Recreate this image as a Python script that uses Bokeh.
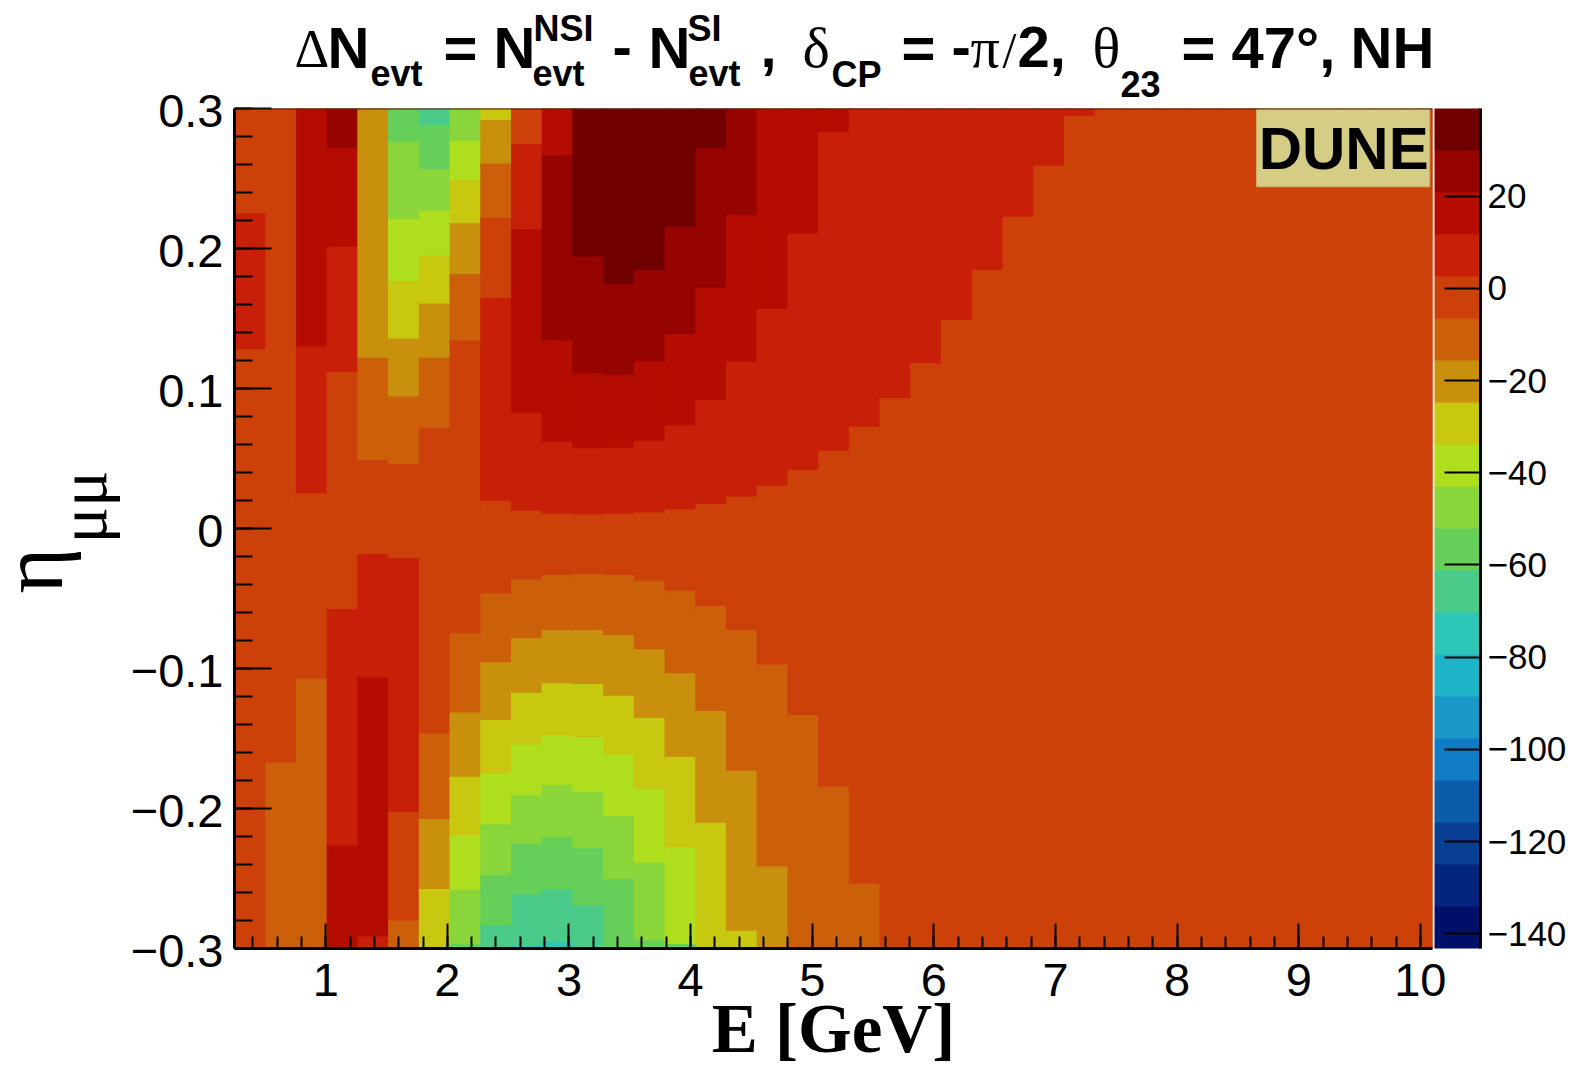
import numpy as np
from bokeh.core.properties import value
from bokeh.embed import file_html
from bokeh.layouts import column, row
from bokeh.models import (ColorBar, ColumnDataSource, FixedTicker, LinearAxis,
                          LinearColorMapper, Range1d, Span)
from bokeh.plotting import figure
from bokeh.resources import INLINE

# ---------- data ----------
E_MIN, E_MAX, N_COLS = 0.25, 10.1, 39
ETA_MIN, ETA_MAX = -0.3, 0.3
DN_MIN, DN_MAX = -143.2, 39.0

PALETTE = ["#001068", "#04247e", "#083e94", "#0c5cac", "#107cc6", "#1a98c8", "#1eb4c8",
           "#2ec6b6", "#4acb8a", "#66cf5a", "#8ad63a", "#aede1e", "#c8c810", "#c9900e",
           "#cb5f0a", "#cc400a", "#c81f08", "#b50c00", "#960400", "#700000"]

# mean ΔN of each colour band
DN_OF_BAND = {7: -74.9, 8: -65.8, 9: -56.7, 10: -47.6, 11: -38.5, 12: -29.4, 13: -20.2,
              14: -11.1, 15: -2.0, 16: 7.1, 17: 16.2, 18: 25.3, 19: 34.4}

# per energy column, from eta=+0.3 downwards: colour bands, and the eta where each one ends
COL_BANDS = [
    [15, 16, 15],
    [15, 14],
    [17, 16, 15, 14],
    [18, 17, 16, 15, 16, 17],
    [13, 14, 15, 16, 17, 16],
    [9, 10, 11, 12, 13, 14, 15, 16, 15, 14],
    [8, 9, 10, 11, 12, 13, 14, 15, 14, 13, 12],
    [10, 11, 12, 13, 14, 15, 14, 13, 12, 11, 10, 9],
    [12, 13, 14, 15, 16, 15, 14, 13, 12, 11, 10, 9, 8],
    [15, 16, 17, 16, 15, 14, 13, 12, 11, 10, 9, 8, 7],
    [17, 18, 17, 16, 15, 14, 13, 12, 11, 10, 9, 8, 7],
    [19, 18, 17, 16, 15, 14, 13, 12, 11, 10, 9, 8],
    [19, 18, 17, 16, 15, 14, 13, 12, 11, 10, 9],
    [19, 18, 17, 16, 15, 14, 13, 12, 11, 10, 9],
    [19, 18, 17, 16, 15, 14, 13, 12, 11, 9],
    [19, 18, 17, 16, 15, 14, 13, 12],
    [18, 17, 16, 15, 14, 13, 12],
    [17, 16, 15, 14, 13],
    [17, 16, 15, 14],
    [17, 16, 15, 14],
    [16, 15, 14],
    [16, 15], [16, 15], [16, 15], [16, 15], [16, 15], [16, 15], [16, 15],
    [15], [15], [15], [15], [15], [15], [15], [15], [15], [15], [15],
]
COL_ENDS = [
    [.2251, .128],
    [-.1673],
    [.1299, .0251, -.1073],
    [.272, .2013, .112, -.0575, -.2263],
    [.122, .0489, -.0182, -.1063, -.2915],
    [.2763, .2211, .1768, .1358, .0942, .0461, -.0211, -.2023, -.2801],
    [.2881, .2568, .227, .1949, .1608, .122, .072, -.1463, -.2075, -.2575],
    [.2768, .2489, .218, .1818, .1342, -.0749, -.1315, -.1773, -.2194, -.2582, -.2968],
    [.2918, .2608, .222, .1646, .0199, -.0463, -.0956, -.1368, -.1754, -.2113, -.2475, -.2832],
    [.2746, .2139, .0827, .0127, -.0363, -.0782, -.1173, -.1544, -.1904, -.2254, -.2613, -.2982],
    [.2668, .1342, .062, .0108, -.0332, -.0725, -.1105, -.1475, -.1832, -.2206, -.2575, -.2951],
    [.1942, .1108, .0573, .0101, -.0325, -.0725, -.1111, -.1492, -.1882, -.2284, -.2696],
    [.1749, .1096, .0577, .0108, -.0332, -.0761, -.1194, -.1615, -.2053, -.2503],
    [.1846, .1192, .0627, .0115, -.0373, -.0863, -.1354, -.1856, -.2385, -.2944],
    [.2156, .1389, .0737, .0137, -.0444, -.1034, -.1632, -.2275, -.2968],
    [.272, .172, .0918, .0175, -.0554, -.1304, -.2101],
    [.2239, .1192, .0227, -.0725, -.173, -.2873],
    [.1568, .0306, -.0973, -.2415],
    [.2108, .0418, -.1332],
    [.283, .0556, -.1844],
    [.0727, -.2535],
    [.093], [.118], [.1489], [.1846], [.2227], [.2592], [.2949],
    [], [], [], [], [], [], [], [], [], [], [],
]

X_TICKS = [1, 2, 3, 4, 5, 6, 7, 8, 9, 10]
X_MINOR = [round(0.4 + 0.2 * i, 1) for i in range(49)]
Y_TICKS = [-0.3, -0.2, -0.1, 0, 0.1, 0.2, 0.3]
Y_LABELS = ["\u22120.3", "\u22120.2", "\u22120.1", "0", "0.1", "0.2", "0.3"]
Y_MINOR = [round(-0.3 + 0.02 * i, 2) for i in range(31)]
BAR_TICKS = [20, 0, -20, -40, -60, -80, -100, -120, -140]
BAR_LABELS = ["20", "0", "\u221220", "\u221240", "\u221260", "\u221280", "\u2212100", "\u2212120", "\u2212140"]

# ---------- build cells ----------
# every cell runs a little under its right and lower neighbours, which are drawn
# after it, so that no seam of the background shows between anti-aliased edges
x_edges = np.linspace(E_MIN, E_MAX, N_COLS + 1)
left, right, top, bottom, dn = [], [], [], [], []
for i, (bands, ends) in enumerate(zip(COL_BANDS, COL_ENDS)):
    upper = ETA_MAX
    for band, low in zip(bands, list(ends) + [ETA_MIN]):
        left.append(x_edges[i]); right.append(x_edges[i + 1] + 0.03)
        top.append(upper); bottom.append(low - 0.003); dn.append(DN_OF_BAND[band])
        upper = low
cells = ColumnDataSource(dict(left=left, right=right, top=top, bottom=bottom, dn=dn))

mapper = LinearColorMapper(palette=PALETTE, low=DN_MIN, high=DN_MAX)
fill = {"field": "dn", "transform": mapper}

SANS, SERIF = "Liberation Sans", "Liberation Serif"
BASE_SHIFT = 1 / 3  # em that a text drawn on its alphabetic baseline sits too low


def write(fig, txt, x, y, size, font=SANS, style="bold", angle=0.0, align="left", baseline="alphabetic"):
    fig.text(x=[x], y=[y], text=[txt], angle=angle, text_font=value(font),
             text_font_style=style, text_font_size=value(f"{size}px"), text_color="black",
             text_align=align, text_baseline=baseline)


# ---------- main plot ----------
p = figure(frame_width=1198, frame_height=840, x_range=(E_MIN, E_MAX), y_range=(ETA_MIN, ETA_MAX),
           output_backend="svg", toolbar_location=None, title=None,
           min_border_left=2, min_border_right=135, min_border_top=2, min_border_bottom=119)
p.grid.visible = False
p.outline_line_color = None
p.background_fill_color = "#cc400a"
p.quad(left="left", right="right", top="top", bottom="bottom", source=cells,
       fill_color=fill, line_color=None)
p.quad(left=[8.654], right=[10.077], top=[ETA_MAX], bottom=[0.2441],
       fill_color="#d5cd85", line_color="#c9b66a", line_width=1)
write(p, "DUNE", 8.671, 0.2571 + BASE_SHIFT * 60 / 1400, 60)
p.add_layout(Span(location=ETA_MAX, dimension="width", line_color="#33261a", line_width=2))

xa = p.xaxis[0]
xa.ticker = FixedTicker(ticks=X_TICKS, minor_ticks=X_MINOR)
xa.major_label_text_font = SANS
xa.major_label_text_font_size = "47px"
xa.major_label_standoff = 15
xa.major_tick_in, xa.major_tick_out = 25, 0
xa.minor_tick_in, xa.minor_tick_out = 12, 0
xa.axis_label = "E [GeV]"
xa.axis_label_text_font = SERIF
xa.axis_label_text_font_style = "bold"
xa.axis_label_text_font_size = "69px"
xa.axis_label_text_color = "black"
xa.axis_label_standoff = -8
ya = p.yaxis[0]
ya.ticker = FixedTicker(ticks=Y_TICKS, minor_ticks=Y_MINOR)
ya.major_label_overrides = {tick: "" for tick in Y_TICKS}
ya.major_label_text_font_size = "1px"
ya.major_label_standoff = 0
ya.major_tick_in, ya.major_tick_out = 37, 0
ya.minor_tick_in, ya.minor_tick_out = 18, 0
for ax in (xa, ya):
    ax.axis_line_color = ax.major_tick_line_color = ax.minor_tick_line_color = "black"
    ax.axis_line_width = 3
    ax.major_tick_line_width = ax.minor_tick_line_width = 2
    ax.major_label_text_color = "black"

# ---------- colour scale ----------
bar = ColorBar(color_mapper=mapper, ticker=FixedTicker(ticks=[]), width=46, height=840,
               padding=0, margin=0, major_tick_line_color=None, minor_tick_line_color=None,
               bar_line_color=None, major_label_text_font_size="1px", level="guide",
               location=(2, 0))
p.add_layout(bar, "right")
p.extra_y_ranges["dn"] = Range1d(DN_MIN, DN_MAX)
ba = LinearAxis(y_range_name="dn", ticker=FixedTicker(ticks=BAR_TICKS, minor_ticks=[]))
ba.major_label_overrides = dict(zip(BAR_TICKS, BAR_LABELS))
ba.major_label_text_font = SANS
ba.major_label_text_font_size = "35px"
ba.major_label_text_color = "black"
ba.major_label_standoff = 7
ba.major_tick_in, ba.major_tick_out = 36, 0
ba.minor_tick_line_color = None
ba.axis_line_color = ba.major_tick_line_color = "black"
ba.axis_line_width = 3
ba.major_tick_line_width = 2
p.add_layout(ba, "right")


def strip(width, height, x_range, y_range):
    fig = figure(frame_width=width, frame_height=height, x_range=x_range, y_range=y_range,
                 output_backend="svg", toolbar_location=None, title=None,
                 x_axis_location=None, y_axis_location=None,
                 min_border_left=0, min_border_right=0, min_border_top=0, min_border_bottom=0)
    fig.grid.visible = False
    fig.outline_line_color = None
    return fig


# ---------- title strip: x and y are pixels of the page ----------
t = strip(1335, 106, (232, 1567), (106, 0))


def put(txt, x, y, size, font=SANS, style="bold"):
    write(t, txt, x, y - BASE_SHIFT * size, size, font, style)


put("\u0394", 292, 66, 54, SERIF, "normal")
put("N", 325, 66, 58)
put("evt", 368, 85, 36)
put("=", 441, 66, 58)
put("N", 491, 66, 58)
put("NSI", 531, 40, 36)
put("evt", 530, 85, 36)
put("-", 610, 66, 58)
put("N", 646, 66, 58)
put("SI", 685, 40, 36)
put("evt", 686, 85, 36)
put(",", 758, 66, 58)
put("\u03b4", 800, 66, 58, SERIF, "normal")
put("CP", 829, 86, 36)
put("=", 899, 66, 58)
put("-", 949, 66, 58)
put("\u03c0", 968, 66, 58, SERIF, "normal")
put("/", 1000, 66, 50, SERIF, "normal")
put("2,", 1015, 66, 58)
put("\u03b8", 1090, 66, 58, SERIF, "normal")
put("23", 1118, 95, 36)
put("=", 1179, 66, 58)
put("47\u00b0,", 1229, 66, 58)
put("NH", 1348, 66, 58)

# ---------- left strip: eta tick labels and the eta axis title, on the same eta scale ----------
l = strip(232, 1067, (0, 232), (0.3 - 959 / 1400, 0.3 + 108 / 1400))
for tick, lab in zip(Y_TICKS, Y_LABELS):
    write(l, lab, 223, tick - 0.0015, 47, SANS, "normal", align="right", baseline="middle")
write(l, "\u03b7", 61 - BASE_SHIFT * 88, -0.0464, 88, SERIF, "normal", np.pi / 2)
write(l, "\u03bc\u03bc", 105 - BASE_SHIFT * 68, -0.0107, 68, SERIF, "normal", np.pi / 2)

page = row(l, column(t, p, spacing=0), spacing=0)
open("out.html", "w").write(file_html(page, INLINE))
